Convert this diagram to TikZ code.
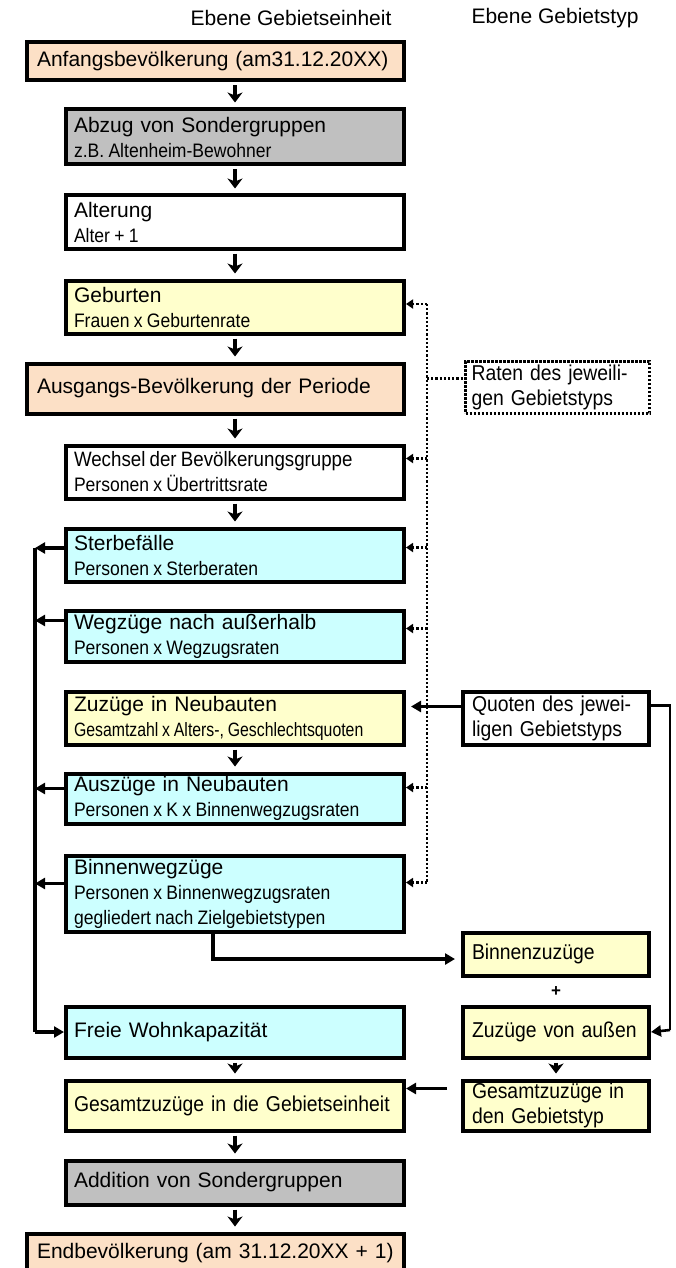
\documentclass[tikz,border=0pt]{standalone}
\usepackage{fontspec}
\setmainfont{Liberation Sans}
\newfontfamily\nA{Liberation Sans}[FakeStretch=0.9]
\newfontfamily\nB{Liberation Sans}[FakeStretch=0.82]
\usetikzlibrary{arrows.meta,calc}
\definecolor{peach}{HTML}{FCE0C6}
\definecolor{grayb}{HTML}{C0C0C0}
\definecolor{yellowb}{HTML}{FFFFCC}
\definecolor{cyanb}{HTML}{CCFFFF}
\newcommand\mf{\fontsize{21}{25}\selectfont}
\newcommand\subf{\nA\fontsize{19.5}{25}\selectfont\spaceskip=4.3pt plus 1pt minus 1pt\relax}
\newcommand\wechf{\nA\fontsize{20.8}{25}\selectfont\spaceskip=4.2pt plus 1pt minus 1pt\relax}
\newcommand\narrowf{\nB\fontsize{19.3}{25}\selectfont\spaceskip=3.8pt plus 1pt minus 1pt\relax}
\newcommand\condf{\nA\fontsize{21.5}{23}\selectfont}
\tikzset{
  box/.style={draw, line width=4pt, anchor=north west, inner ysep=0pt, align=left, font=\mf},
  lbox/.style={box, minimum width=338pt, text width=322pt, inner xsep=8pt},
  wbox/.style={box, minimum width=377pt, text width=357pt, inner xsep=10pt},
  rbox/.style={box, minimum width=186pt, text width=168pt, inner xsep=9pt},
  dbox/.style={box, line width=3.2pt, dash pattern=on 2.4pt off 1.6pt, minimum width=184pt, text width=172pt, inner xsep=6pt},
  varrow/.style={line width=4.2pt, -{Stealth[length=10pt,width=15pt,inset=3pt]}, shorten <=3pt, shorten >=5pt},
  conn/.style={line width=3.4pt},
  harrow/.style={line width=3.4pt, -{Triangle[length=10pt,width=11pt]}},
  dline/.style={line width=2.6pt, dash pattern=on 2.2pt off 2pt},
  darrow/.style={dline, -{Triangle[length=7pt,width=9pt]}},
}
\begin{document}
\begin{tikzpicture}[x=1pt,y=1pt]
\useasboundingbox (0,0) rectangle (676,-1268);
% headers
\node[font=\mf] (h1) at (291,-18) {Ebene Gebietseinheit};
\node[font=\mf] (h2) at (555,-18) {Ebene Gebietstyp};
% left column
\node[wbox, fill=peach, minimum height=38pt] (anf) at (25,-40.5) {Anfangsbevölkerung (am31.12.20XX)};
\node[lbox, fill=grayb, minimum height=55pt] (abz) at (64,-107.5) {Abzug von Sondergruppen\\ \subf z.B. Altenheim-Bewohner};
\node[lbox, fill=white, minimum height=53pt] (alt) at (64,-193.5) {Alterung\\ \subf Alter + 1};
\node[lbox, fill=yellowb, minimum height=53pt] (geb) at (64,-278.5) {Geburten\\ \subf Frauen x Geburtenrate};
\node[wbox, fill=peach, minimum height=50pt] (ausg) at (25,-361.5) {Ausgangs-Bevölkerung der Periode};
\node[lbox, fill=white, minimum height=53pt] (wech) at (64,-443.5) {{\wechf Wechsel der Bevölkerungsgruppe}\\ \subf Personen x Übertrittsrate};
\node[lbox, fill=cyanb, minimum height=53pt] (ster) at (64,-526.5) {Sterbefälle\\ \subf Personen x Sterberaten};
\node[lbox, fill=cyanb, minimum height=51pt] (wegz) at (64,-608.5) {Wegzüge nach außerhalb\\ \subf Personen x Wegzugsraten};
\node[lbox, fill=yellowb, minimum height=53pt] (zuzn) at (64,-689.5) {Zuzüge in Neubauten\\ \narrowf Gesamtzahl x Alters-, Geschlechtsquoten};
\node[lbox, fill=cyanb, minimum height=50pt] (ausz) at (64,-771.5) {Auszüge in Neubauten\\ \subf Personen x K x Binnenwegzugsraten};
\node[lbox, fill=cyanb, minimum height=76pt] (binw) at (64,-853.5) {Binnenwegzüge\\ \subf Personen x Binnenwegzugsraten\\ gegliedert nach Zielgebietstypen};
\node[lbox, fill=cyanb, minimum height=51pt] (frei) at (64,-1004.5) {Freie Wohnkapazität};
\node[lbox, fill=yellowb, minimum height=50pt] (geh) at (64,-1078.5) {\condf Gesamtzuzüge in die Gebietseinheit};
\node[lbox, fill=grayb, minimum height=44pt] (add) at (64,-1158.5) {Addition von Sondergruppen};
\node[wbox, fill=peach, minimum height=40pt] (endb) at (25,-1231.5) {Endbevölkerung (am 31.12.20XX + 1)};
% right column
\node[dbox, fill=white, minimum height=52pt] (raten) at (464,-359.5) {\condf Raten des jeweili-\\ gen Gebietstyps};
\node[rbox, fill=white, minimum height=53pt] (quot) at (461,-689.5) {\condf Quoten des jewei-\\ ligen Gebietstyps};
\node[rbox, fill=yellowb, minimum height=43pt] (binz) at (461,-930.5) {\condf Binnenzuzüge};
\node[font=\bfseries\fontsize{17}{17}\selectfont] (plus) at (556,-992) {+};
\node[rbox, fill=yellowb, minimum height=51pt] (zva) at (461,-1004.5) {\condf Zuzüge von außen};
\node[rbox, fill=yellowb, minimum height=50pt] (gtyp) at (461,-1078.5) {\condf Gesamtzuzüge in\\ den Gebietstyp};
% vertical arrows
\draw[varrow] (anf.south -| abz.north) -- (abz.north);
\draw[varrow] (abz.south) -- (alt.north);
\draw[varrow] (alt.south) -- (geb.north);
\draw[varrow] (geb.south) -- (geb.south |- ausg.north);
\draw[varrow] (ausg.south -| wech.north) -- (wech.north);
\draw[varrow] (wech.south) -- (ster.north);
\draw[varrow] (zuzn.south) -- (ausz.north);
\draw[varrow] (frei.south) -- (geh.north);
\draw[varrow] (geh.south) -- (add.north);
\draw[varrow] (add.south) -- (add.south |- endb.north);
\draw[varrow] (zva.south) -- (gtyp.north);
% left collecting line
\coordinate (ltop) at (35,-548);
\draw[conn] (ltop) -- (ltop |- frei.west);
\draw[harrow] (ltop |- frei.west) -- (frei.west);
\draw[harrow] (ster.west |- ltop) -- (ltop);
\coordinate (w2) at ($(wegz.north west)+(0,-12)$);
\draw[harrow] (w2) -- (w2 -| ltop);
\coordinate (w3) at ($(ausz.north west)+(0,-17)$);
\draw[harrow] (w3) -- (w3 -| ltop);
\coordinate (w4) at ($(binw.north west)+(0,-30)$);
\draw[harrow] (w4) -- (w4 -| ltop);
% dotted rate line
\coordinate (dtop) at (427,-304);
\coordinate (d6) at ($(binw.north east)+(0,-29)$);
\draw[dline] (dtop) -- (d6 -| dtop);
\draw[darrow] (dtop) -- (dtop -| geb.east);
\coordinate (d2) at ($(wech.north east)+(0,-15)$);
\draw[darrow] (d2 -| dtop) -- (d2);
\coordinate (d3) at ($(ster.north east)+(0,-21)$);
\draw[darrow] (d3 -| dtop) -- (d3);
\coordinate (d4) at ($(wegz.north east)+(0,-20)$);
\draw[darrow] (d4 -| dtop) -- (d4);
\coordinate (d5) at ($(ausz.north east)+(0,-16)$);
\draw[darrow] (d5 -| dtop) -- (d5);
\draw[darrow] (d6 -| dtop) -- (d6);
\coordinate (r1) at ($(raten.north west)+(0,-19)$);
\draw[dline] (r1 -| dtop) -- (r1);
% Quoten
\coordinate (q1) at ($(quot.north west)+(0,-17)$);
\draw[harrow, shorten >=5pt] (q1) -- (q1 -| zuzn.east);
\coordinate (q2) at ($(quot.north east)+(0,-16)$);
\coordinate (qr) at (670,-1030);
\draw[line width=2.6pt] (q2) -| (qr);
\draw[harrow, line width=2.6pt] (qr) -- (zva.east);
% Binnen
\coordinate (b1) at ($(binw.south west)+(149,0)$);
\coordinate (b2) at ($(binz.west)+(0,-5)$);
\draw[harrow, shorten >=6pt] (b1) |- (b2);
% Gesamt
\coordinate (g1) at ($(gtyp.north west)+(-14,-10)$);
\draw[harrow] (g1) -- (g1 -| geh.east);
\end{tikzpicture}
\end{document}
